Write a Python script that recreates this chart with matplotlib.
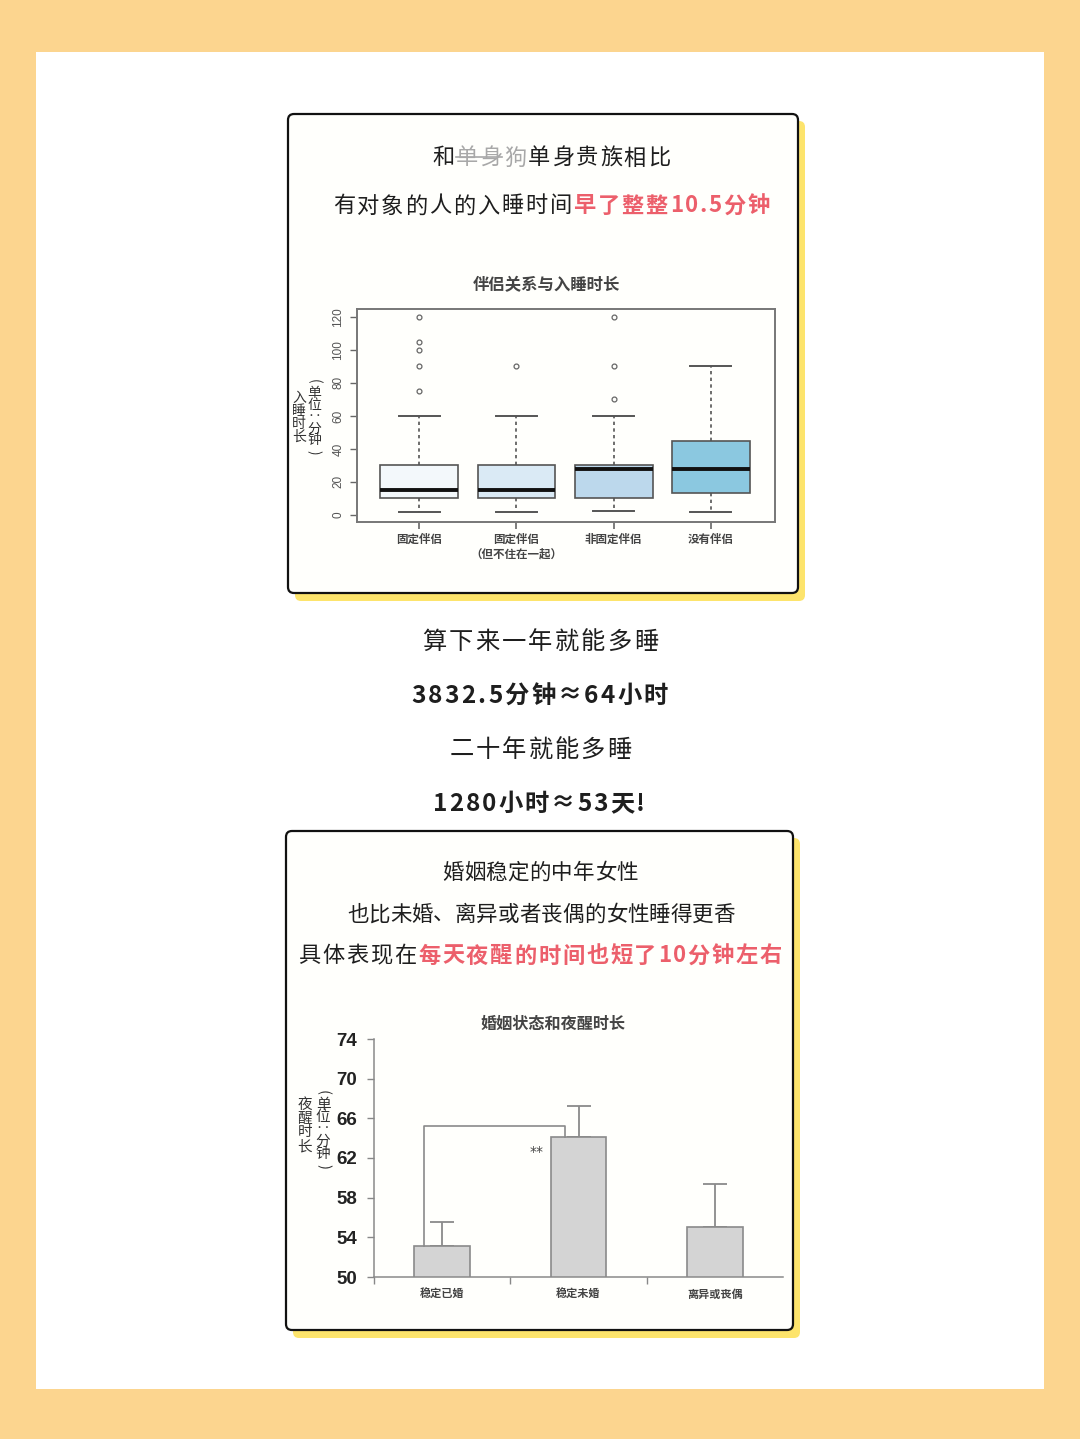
import matplotlib
matplotlib.use('Agg')
import matplotlib.pyplot as plt
from matplotlib.patches import FancyBboxPatch
from matplotlib.transforms import IdentityTransform
from matplotlib.lines import Line2D

plt.rcParams['font.family'] = ['Noto Sans CJK SC', 'DejaVu Sans']

W, H = 1080, 1439

# box plot data (minutes to fall asleep)
groups = ['固定伴侣', '固定伴侣\n（但不住在一起）', '非固定伴侣', '没有伴侣']
q1 = [10, 10, 10, 13]
med = [15, 15, 28, 28]
q3 = [30, 30, 30, 45]
whislo = [2, 2, 2.5, 1.5]
whishi = [60, 60, 60, 90]
fliers = [[75, 90, 100, 105, 120], [90], [70, 90, 120], []]
box_colors = ['#F3F8FB', '#DAEAF5', '#BCD8EC', '#8BC8E0']

# bar chart data (minutes awake at night)
status = ['稳定已婚', '稳定未婚', '离异或丧偶']
wake_mean = [53.1, 64.1, 55.0]
wake_err = [2.4, 3.1, 4.4]

RED = '#EC5F6B'
INK = '#1E1E1E'

fig = plt.figure(figsize=(W / 100, H / 100), dpi=100)
fig.patch.set_facecolor('#FCD58F')
ident = IdentityTransform()


def px_rect(x0, y0, x1, y1, **kw):
    # rectangle given in image pixels (y down)
    return FancyBboxPatch((x0, H - y1), x1 - x0, y1 - y0, transform=ident, **kw)


# white page
fig.patches.append(px_rect(36, 52, 1044, 1389, boxstyle='square,pad=0',
                           facecolor='white', edgecolor='none', zorder=-5))

# cards with yellow shadow
for (x0, y0, x1, y1) in [(288, 114, 798, 593), (286, 831, 793, 1330)]:
    fig.patches.append(px_rect(x0 + 7, y0 + 7, x1 + 7, y1 + 8,
                               boxstyle='round,pad=0,rounding_size=6',
                               facecolor='#FDE46C', edgecolor='none', zorder=-4))
    fig.patches.append(px_rect(x0, y0, x1, y1,
                               boxstyle='round,pad=0,rounding_size=6',
                               facecolor='#FFFFFC', edgecolor='#111111',
                               linewidth=1.6, zorder=-3))

renderer = fig.canvas.get_renderer()


def line_text(cy, runs, size, cx, width):
    # lay out runs of (text, color, weight) char by char, spread to width
    arts = []
    for s, c, w in runs:
        for ch in s:
            t = fig.text(0, 0, ch, fontsize=size, color=c, weight=w,
                         ha='left', va='center', transform=ident)
            arts.append([t, t.get_window_extent(renderer).width])
    total = sum(a[1] for a in arts)
    gap = (width - total) / (len(arts) - 1)
    x = cx - width / 2
    pos = []
    for t, wd in arts:
        t.set_position((x, H - cy - 2))
        pos.append((x, wd))
        x += wd + gap
    return pos


def vertical_label(x, y0, y1, text, size, parens=False):
    # stack characters top to bottom, optional rotated brackets at the ends
    chars = list(text)
    if parens:
        chars = ['('] + chars + [')']
    step = (y1 - y0) / (len(chars) - 1)
    for i, ch in enumerate(chars):
        rot = -90 if ch in '()' else 0
        fig.text(x, H - (y0 + i * step), ch, fontsize=size, color='#333333',
                 rotation=rot, ha='center', va='center', transform=ident)


# top card header
p = line_text(156, [('和', INK, 'normal'), ('单身狗', '#A8A8A8', 'normal'),
                    ('单身贵族相比', INK, 'normal')], 16, 551, 238)
fig.lines.append(Line2D([p[1][0], p[3][0] - 2], [H - 157, H - 157],
                        transform=ident, color='#A8A8A8', linewidth=1.2))
line_text(204, [('有对象的人的入睡时间', INK, 'normal'),
                ('早了整整10.5分钟', RED, 'bold')], 16, 551.5, 437)

# middle text
line_text(640, [('算下来一年就能多睡', INK, 'normal')], 17.5, 540, 236)
line_text(694, [('3832.5分钟≈64小时', INK, 'bold')], 17.5, 539.5, 257)
line_text(748, [('二十年就能多睡', INK, 'normal')], 17.5, 540.5, 181)
line_text(802, [('1280小时≈53天!', INK, 'bold')], 17.5, 539, 212)

# bottom card header
line_text(871, [('婚姻稳定的中年女性', INK, 'normal')], 15.5, 540, 196)
line_text(913, [('也比未婚、离异或者丧偶的女性睡得更香', INK, 'normal')], 15.5, 541, 388)
line_text(954, [('具体表现在', INK, 'normal'),
                ('每天夜醒的时间也短了10分钟左右', RED, 'bold')], 16, 540, 484)

# ---- box plot ----
ax1 = fig.add_axes([357 / W, 1 - 522 / H, 418 / W, 213 / H])
ax1.set_zorder(2)
ax1.set_facecolor('none')
stats = []
for i in range(len(groups)):
    stats.append(dict(q1=q1[i], med=med[i], q3=q3[i], whislo=whislo[i],
                      whishi=whishi[i], fliers=fliers[i]))
bp = ax1.bxp(stats, positions=[1, 2, 3, 4], widths=0.8, capwidths=0.42,
             patch_artist=True,
             boxprops=dict(edgecolor='#555555', linewidth=1.2),
             whiskerprops=dict(color='#555555', linewidth=1.2, linestyle=(0, (2, 2))),
             capprops=dict(color='#555555', linewidth=1.4),
             medianprops=dict(color='#111111', linewidth=2.8),
             flierprops=dict(marker='o', markersize=3.5, markerfacecolor='none',
                             markeredgecolor='#666666', markeredgewidth=0.9))
for patch, c in zip(bp['boxes'], box_colors):
    patch.set_facecolor(c)
ax1.set_xlim(0.36, 4.66)
ax1.set_ylim(-4.3, 124.8)
ax1.set_yticks(range(0, 121, 20))
ax1.set_yticklabels([str(v) for v in range(0, 121, 20)], rotation=90,
                    va='center', family='Liberation Sans')
ax1.set_xticks([1, 2, 3, 4])
ax1.set_xticklabels(groups, linespacing=1.1)
for lab in ax1.get_xticklabels():
    lab.set_fontweight('bold')
ax1.tick_params(axis='y', length=5, width=1, color='#666666', pad=4,
                labelsize=8.5, labelcolor='#555555')
ax1.tick_params(axis='x', length=5, width=1.2, color='#666666', pad=3,
                labelsize=8.3, labelcolor='#444444')
for s in ax1.spines.values():
    s.set_color('#777777')
    s.set_linewidth(1.4)

fig.text(546 / W, 1 - 285 / H, '伴侣关系与入睡时长', ha='center', va='center',
         fontsize=11.8, weight='bold', color='#444444')
vertical_label(299, 398, 437, '入睡时长', 10)
vertical_label(314, 381, 452, '单位‥分钟', 10, parens=True)

# ---- bar chart ----
ax2 = fig.add_axes([374 / W, 1 - 1277 / H, 409 / W, 238 / H])
ax2.set_zorder(2)
ax2.set_facecolor('none')
xs = list(range(len(status)))
ax2.bar(xs, wake_mean, width=0.41, color='#D4D4D4', edgecolor='#8A8A8A',
        linewidth=1.2, zorder=2)
ax2.errorbar(xs, wake_mean, yerr=[[0] * len(xs), wake_err], fmt='none',
             ecolor='#8A8A8A', elinewidth=1.3, capsize=8.5, capthick=1.3, zorder=1)
# significance bracket
ax2.plot([-0.13, -0.13, 0.9, 0.9], [wake_mean[0], 65.25, 65.25, wake_mean[1]],
         color='#8A8A8A', linewidth=1.2, zorder=3)
ax2.text(0.69, 62.65, '**', ha='center', va='center', fontsize=10,
         color='#444444', family='DejaVu Sans')
ax2.set_xlim(-0.5, 2.5)
ax2.set_ylim(50, 74)
ax2.set_yticks(range(50, 75, 4))
ax2.set_yticklabels([str(v) for v in range(50, 75, 4)], family='Liberation Sans',
                    fontweight='bold')
ax2.tick_params(axis='y', length=5, width=1, color='#888888', pad=7,
                labelsize=13.5, labelcolor='#222222')
ax2.set_xticks(xs)
ax2.set_xticklabels(status, fontweight='bold')
ax2.tick_params(axis='x', length=0, pad=8, labelsize=8, labelcolor='#444444')
ax2.set_xticks([-0.5, 0.5, 1.5], minor=True)
ax2.tick_params(axis='x', which='minor', length=5, width=1, color='#888888')
ax2.spines['top'].set_visible(False)
ax2.spines['right'].set_visible(False)
for s in ['left', 'bottom']:
    ax2.spines[s].set_color('#8A8A8A')
    ax2.spines[s].set_linewidth(1.1)

fig.text(553 / W, 1 - 1024 / H, '婚姻状态和夜醒时长', ha='center', va='center',
         fontsize=11.6, weight='bold', color='#444444')
vertical_label(305, 1105, 1146, '夜醒时长', 10.5)
vertical_label(323, 1093, 1166, '单位‥分钟', 10.5, parens=True)

fig.savefig('out.png', dpi=100)
